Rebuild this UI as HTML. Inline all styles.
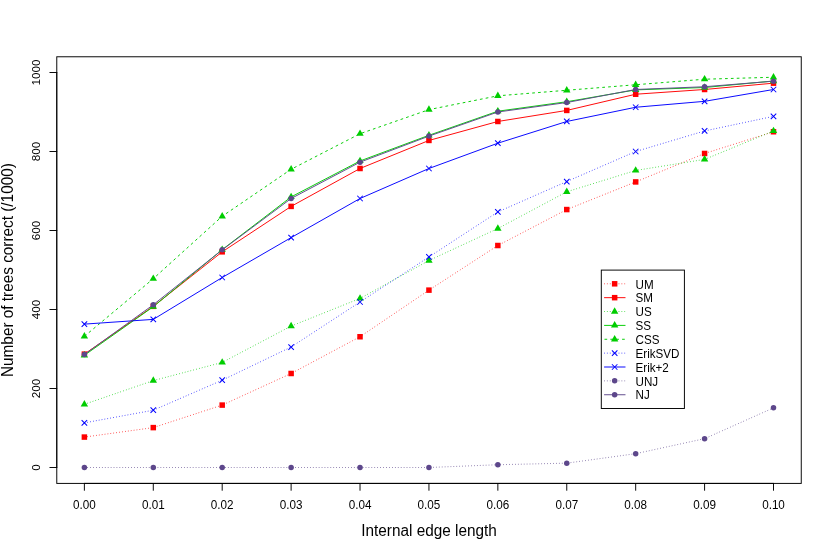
<!DOCTYPE html>
<html><head><meta charset="utf-8"><title>Chart</title>
<style>html,body{margin:0;padding:0;background:#fff}body{width:830px;height:554px;overflow:hidden}svg{will-change:transform}</style></head>
<body>
<svg width="830" height="554" viewBox="0 0 830 554" style="display:block;font-family:'Liberation Sans',sans-serif">
<rect width="830" height="554" fill="#fff"/>
<path d="M84.38 437.08L153.29 427.61L222.20 405.09L291.12 373.49L360.03 336.75L428.94 290.14L497.85 245.51L566.76 209.56L635.68 181.92L704.59 153.48L773.50 131.75" stroke="#FF0000" stroke-width="0.96" fill="none" stroke-linecap="butt" stroke-linejoin="round" stroke-dasharray="0.65 2.28"/>
<rect x="81.63" y="434.33" width="5.50" height="5.50" fill="#FF0000"/>
<rect x="150.54" y="424.86" width="5.50" height="5.50" fill="#FF0000"/>
<rect x="219.45" y="402.34" width="5.50" height="5.50" fill="#FF0000"/>
<rect x="288.37" y="370.74" width="5.50" height="5.50" fill="#FF0000"/>
<rect x="357.28" y="334.00" width="5.50" height="5.50" fill="#FF0000"/>
<rect x="426.19" y="287.39" width="5.50" height="5.50" fill="#FF0000"/>
<rect x="495.10" y="242.76" width="5.50" height="5.50" fill="#FF0000"/>
<rect x="564.01" y="206.81" width="5.50" height="5.50" fill="#FF0000"/>
<rect x="632.93" y="179.17" width="5.50" height="5.50" fill="#FF0000"/>
<rect x="701.84" y="150.73" width="5.50" height="5.50" fill="#FF0000"/>
<rect x="770.75" y="129.00" width="5.50" height="5.50" fill="#FF0000"/>
<path d="M84.38 354.13L153.29 306.34L222.20 251.83L291.12 206.40L360.03 168.49L428.94 140.44L497.85 121.48L566.76 110.42L635.68 94.23L704.59 89.49L773.50 83.17" stroke="#FF0000" stroke-width="0.96" fill="none" stroke-linecap="round" stroke-linejoin="round"/>
<rect x="81.63" y="351.38" width="5.50" height="5.50" fill="#FF0000"/>
<rect x="150.54" y="303.59" width="5.50" height="5.50" fill="#FF0000"/>
<rect x="219.45" y="249.08" width="5.50" height="5.50" fill="#FF0000"/>
<rect x="288.37" y="203.65" width="5.50" height="5.50" fill="#FF0000"/>
<rect x="357.28" y="165.74" width="5.50" height="5.50" fill="#FF0000"/>
<rect x="426.19" y="137.69" width="5.50" height="5.50" fill="#FF0000"/>
<rect x="495.10" y="118.73" width="5.50" height="5.50" fill="#FF0000"/>
<rect x="564.01" y="107.67" width="5.50" height="5.50" fill="#FF0000"/>
<rect x="632.93" y="91.48" width="5.50" height="5.50" fill="#FF0000"/>
<rect x="701.84" y="86.74" width="5.50" height="5.50" fill="#FF0000"/>
<rect x="770.75" y="80.42" width="5.50" height="5.50" fill="#FF0000"/>
<path d="M84.38 404.30L153.29 380.60L222.20 362.43L291.12 326.09L360.03 298.44L428.94 260.52L497.85 228.53L566.76 191.79L635.68 170.46L704.59 159.40L773.50 130.96" stroke="#00CD00" stroke-width="0.96" fill="none" stroke-linecap="butt" stroke-linejoin="round" stroke-dasharray="0.65 2.28"/>
<path d="M84.38 400.02L88.08 406.44L80.68 406.44Z" fill="#00CD00"/>
<path d="M153.29 376.32L157.00 382.74L149.59 382.74Z" fill="#00CD00"/>
<path d="M222.20 358.15L225.91 364.57L218.50 364.57Z" fill="#00CD00"/>
<path d="M291.12 321.81L294.82 328.23L287.41 328.23Z" fill="#00CD00"/>
<path d="M360.03 294.16L363.73 300.58L356.32 300.58Z" fill="#00CD00"/>
<path d="M428.94 256.24L432.64 262.66L425.24 262.66Z" fill="#00CD00"/>
<path d="M497.85 224.25L501.56 230.66L494.15 230.66Z" fill="#00CD00"/>
<path d="M566.76 187.51L570.47 193.93L563.06 193.93Z" fill="#00CD00"/>
<path d="M635.68 166.18L639.38 172.60L631.97 172.60Z" fill="#00CD00"/>
<path d="M704.59 155.12L708.29 161.54L700.88 161.54Z" fill="#00CD00"/>
<path d="M773.50 126.68L777.20 133.10L769.80 133.10Z" fill="#00CD00"/>
<path d="M84.38 355.32L153.29 306.74L222.20 249.66L291.12 196.93L360.03 160.98L428.94 135.31L497.85 111.21L566.76 101.73L635.68 89.88L704.59 87.51L773.50 80.99" stroke="#00CD00" stroke-width="0.96" fill="none" stroke-linecap="round" stroke-linejoin="round"/>
<path d="M84.38 351.04L88.08 357.46L80.68 357.46Z" fill="#00CD00"/>
<path d="M153.29 302.46L157.00 308.87L149.59 308.87Z" fill="#00CD00"/>
<path d="M222.20 245.38L225.91 251.80L218.50 251.80Z" fill="#00CD00"/>
<path d="M291.12 192.65L294.82 199.06L287.41 199.06Z" fill="#00CD00"/>
<path d="M360.03 156.70L363.73 163.12L356.32 163.12Z" fill="#00CD00"/>
<path d="M428.94 131.03L432.64 137.44L425.24 137.44Z" fill="#00CD00"/>
<path d="M497.85 106.93L501.56 113.35L494.15 113.35Z" fill="#00CD00"/>
<path d="M566.76 97.45L570.47 103.87L563.06 103.87Z" fill="#00CD00"/>
<path d="M635.68 85.60L639.38 92.02L631.97 92.02Z" fill="#00CD00"/>
<path d="M704.59 83.23L708.29 89.65L700.88 89.65Z" fill="#00CD00"/>
<path d="M773.50 76.72L777.20 83.13L769.80 83.13Z" fill="#00CD00"/>
<path d="M84.38 336.36L153.29 278.69L222.20 216.28L291.12 169.27L360.03 133.73L428.94 109.63L497.85 95.81L566.76 90.27L635.68 84.75L704.59 79.21L773.50 77.24" stroke="#00CD00" stroke-width="0.96" fill="none" stroke-linecap="butt" stroke-linejoin="round" stroke-dasharray="2.7 3.16"/>
<path d="M84.38 332.08L88.08 338.50L80.68 338.50Z" fill="#00CD00"/>
<path d="M153.29 274.41L157.00 280.83L149.59 280.83Z" fill="#00CD00"/>
<path d="M222.20 212.00L225.91 218.42L218.50 218.42Z" fill="#00CD00"/>
<path d="M291.12 165.00L294.82 171.41L287.41 171.41Z" fill="#00CD00"/>
<path d="M360.03 129.45L363.73 135.86L356.32 135.86Z" fill="#00CD00"/>
<path d="M428.94 105.35L432.64 111.77L425.24 111.77Z" fill="#00CD00"/>
<path d="M497.85 91.53L501.56 97.94L494.15 97.94Z" fill="#00CD00"/>
<path d="M566.76 86.00L570.47 92.41L563.06 92.41Z" fill="#00CD00"/>
<path d="M635.68 80.47L639.38 86.88L631.97 86.88Z" fill="#00CD00"/>
<path d="M704.59 74.94L708.29 81.35L700.88 81.35Z" fill="#00CD00"/>
<path d="M773.50 72.96L777.20 79.38L769.80 79.38Z" fill="#00CD00"/>
<path d="M84.38 422.87L153.29 410.23L222.20 380.20L291.12 347.02L360.03 302.00L428.94 256.97L497.85 211.94L566.76 181.52L635.68 151.50L704.59 130.96L773.50 116.35" stroke="#0000FF" stroke-width="0.96" fill="none" stroke-linecap="butt" stroke-linejoin="round" stroke-dasharray="0.65 2.28"/>
<path d="M81.63 420.12L87.13 425.62M81.63 425.62L87.13 420.12" stroke="#0000FF" stroke-width="1.02" stroke-linecap="butt" fill="none"/>
<path d="M150.54 407.48L156.04 412.98M150.54 412.98L156.04 407.48" stroke="#0000FF" stroke-width="1.02" stroke-linecap="butt" fill="none"/>
<path d="M219.45 377.45L224.95 382.95M219.45 382.95L224.95 377.45" stroke="#0000FF" stroke-width="1.02" stroke-linecap="butt" fill="none"/>
<path d="M288.37 344.27L293.87 349.77M288.37 349.77L293.87 344.27" stroke="#0000FF" stroke-width="1.02" stroke-linecap="butt" fill="none"/>
<path d="M357.28 299.25L362.78 304.75M357.28 304.75L362.78 299.25" stroke="#0000FF" stroke-width="1.02" stroke-linecap="butt" fill="none"/>
<path d="M426.19 254.22L431.69 259.72M426.19 259.72L431.69 254.22" stroke="#0000FF" stroke-width="1.02" stroke-linecap="butt" fill="none"/>
<path d="M495.10 209.19L500.60 214.69M495.10 214.69L500.60 209.19" stroke="#0000FF" stroke-width="1.02" stroke-linecap="butt" fill="none"/>
<path d="M564.01 178.77L569.51 184.27M564.01 184.27L569.51 178.77" stroke="#0000FF" stroke-width="1.02" stroke-linecap="butt" fill="none"/>
<path d="M632.93 148.75L638.43 154.25M632.93 154.25L638.43 148.75" stroke="#0000FF" stroke-width="1.02" stroke-linecap="butt" fill="none"/>
<path d="M701.84 128.21L707.34 133.71M701.84 133.71L707.34 128.21" stroke="#0000FF" stroke-width="1.02" stroke-linecap="butt" fill="none"/>
<path d="M770.75 113.60L776.25 119.10M770.75 119.10L776.25 113.60" stroke="#0000FF" stroke-width="1.02" stroke-linecap="butt" fill="none"/>
<path d="M84.38 324.12L153.29 319.38L222.20 277.50L291.12 237.61L360.03 198.50L428.94 168.49L497.85 143.20L566.76 121.48L635.68 107.26L704.59 101.33L773.50 89.49" stroke="#0000FF" stroke-width="0.96" fill="none" stroke-linecap="round" stroke-linejoin="round"/>
<path d="M81.63 321.37L87.13 326.87M81.63 326.87L87.13 321.37" stroke="#0000FF" stroke-width="1.02" stroke-linecap="butt" fill="none"/>
<path d="M150.54 316.62L156.04 322.12M150.54 322.12L156.04 316.62" stroke="#0000FF" stroke-width="1.02" stroke-linecap="butt" fill="none"/>
<path d="M219.45 274.75L224.95 280.25M219.45 280.25L224.95 274.75" stroke="#0000FF" stroke-width="1.02" stroke-linecap="butt" fill="none"/>
<path d="M288.37 234.86L293.87 240.36M288.37 240.36L293.87 234.86" stroke="#0000FF" stroke-width="1.02" stroke-linecap="butt" fill="none"/>
<path d="M357.28 195.75L362.78 201.25M357.28 201.25L362.78 195.75" stroke="#0000FF" stroke-width="1.02" stroke-linecap="butt" fill="none"/>
<path d="M426.19 165.74L431.69 171.24M426.19 171.24L431.69 165.74" stroke="#0000FF" stroke-width="1.02" stroke-linecap="butt" fill="none"/>
<path d="M495.10 140.45L500.60 145.95M495.10 145.95L500.60 140.45" stroke="#0000FF" stroke-width="1.02" stroke-linecap="butt" fill="none"/>
<path d="M564.01 118.73L569.51 124.23M564.01 124.23L569.51 118.73" stroke="#0000FF" stroke-width="1.02" stroke-linecap="butt" fill="none"/>
<path d="M632.93 104.51L638.43 110.01M632.93 110.01L638.43 104.51" stroke="#0000FF" stroke-width="1.02" stroke-linecap="butt" fill="none"/>
<path d="M701.84 98.58L707.34 104.08M701.84 104.08L707.34 98.58" stroke="#0000FF" stroke-width="1.02" stroke-linecap="butt" fill="none"/>
<path d="M770.75 86.74L776.25 92.24M770.75 92.24L776.25 86.74" stroke="#0000FF" stroke-width="1.02" stroke-linecap="butt" fill="none"/>
<path d="M84.38 467.50L153.29 467.50L222.20 467.50L291.12 467.50L360.03 467.50L428.94 467.50L497.85 464.74L566.76 463.15L635.68 453.68L704.59 438.67L773.50 407.86" stroke="#5D478B" stroke-width="0.96" fill="none" stroke-linecap="butt" stroke-linejoin="round" stroke-dasharray="0.65 2.28"/>
<circle cx="84.38" cy="467.50" r="2.75" fill="#5D478B"/>
<circle cx="153.29" cy="467.50" r="2.75" fill="#5D478B"/>
<circle cx="222.20" cy="467.50" r="2.75" fill="#5D478B"/>
<circle cx="291.12" cy="467.50" r="2.75" fill="#5D478B"/>
<circle cx="360.03" cy="467.50" r="2.75" fill="#5D478B"/>
<circle cx="428.94" cy="467.50" r="2.75" fill="#5D478B"/>
<circle cx="497.85" cy="464.74" r="2.75" fill="#5D478B"/>
<circle cx="566.76" cy="463.15" r="2.75" fill="#5D478B"/>
<circle cx="635.68" cy="453.68" r="2.75" fill="#5D478B"/>
<circle cx="704.59" cy="438.67" r="2.75" fill="#5D478B"/>
<circle cx="773.50" cy="407.86" r="2.75" fill="#5D478B"/>
<path d="M84.38 354.53L153.29 304.76L222.20 249.85L291.12 198.50L360.03 162.17L428.94 136.10L497.85 112.00L566.76 102.52L635.68 89.49L704.59 86.72L773.50 81.19" stroke="#5D478B" stroke-width="0.96" fill="none" stroke-linecap="round" stroke-linejoin="round"/>
<circle cx="84.38" cy="354.53" r="2.75" fill="#5D478B"/>
<circle cx="153.29" cy="304.76" r="2.75" fill="#5D478B"/>
<circle cx="222.20" cy="249.85" r="2.75" fill="#5D478B"/>
<circle cx="291.12" cy="198.50" r="2.75" fill="#5D478B"/>
<circle cx="360.03" cy="162.17" r="2.75" fill="#5D478B"/>
<circle cx="428.94" cy="136.10" r="2.75" fill="#5D478B"/>
<circle cx="497.85" cy="112.00" r="2.75" fill="#5D478B"/>
<circle cx="566.76" cy="102.52" r="2.75" fill="#5D478B"/>
<circle cx="635.68" cy="89.49" r="2.75" fill="#5D478B"/>
<circle cx="704.59" cy="86.72" r="2.75" fill="#5D478B"/>
<circle cx="773.50" cy="81.19" r="2.75" fill="#5D478B"/>
<rect x="56.78" y="56.78" width="744.47" height="426.62" fill="none" stroke="#000" stroke-width="0.96"/>
<path d="M84.38 483.4L773.50 483.4M84.38 483.4L84.38 490.30M153.29 483.4L153.29 490.30M222.20 483.4L222.20 490.30M291.12 483.4L291.12 490.30M360.03 483.4L360.03 490.30M428.94 483.4L428.94 490.30M497.85 483.4L497.85 490.30M566.76 483.4L566.76 490.30M635.68 483.4L635.68 490.30M704.59 483.4L704.59 490.30M773.50 483.4L773.50 490.30M56.78 467.50L56.78 72.50M56.78 467.50L49.88 467.50M56.78 388.50L49.88 388.50M56.78 309.50L49.88 309.50M56.78 230.50L49.88 230.50M56.78 151.50L49.88 151.50M56.78 72.50L49.88 72.50" stroke="#000" stroke-width="0.96" fill="none" stroke-linecap="round"/>
<text transform="translate(84.38 508.50) scale(1 1.08)" font-size="11.7" text-anchor="middle">0.00</text>
<text transform="translate(153.29 508.50) scale(1 1.08)" font-size="11.7" text-anchor="middle">0.01</text>
<text transform="translate(222.20 508.50) scale(1 1.08)" font-size="11.7" text-anchor="middle">0.02</text>
<text transform="translate(291.12 508.50) scale(1 1.08)" font-size="11.7" text-anchor="middle">0.03</text>
<text transform="translate(360.03 508.50) scale(1 1.08)" font-size="11.7" text-anchor="middle">0.04</text>
<text transform="translate(428.94 508.50) scale(1 1.08)" font-size="11.7" text-anchor="middle">0.05</text>
<text transform="translate(497.85 508.50) scale(1 1.08)" font-size="11.7" text-anchor="middle">0.06</text>
<text transform="translate(566.76 508.50) scale(1 1.08)" font-size="11.7" text-anchor="middle">0.07</text>
<text transform="translate(635.68 508.50) scale(1 1.08)" font-size="11.7" text-anchor="middle">0.08</text>
<text transform="translate(704.59 508.50) scale(1 1.08)" font-size="11.7" text-anchor="middle">0.09</text>
<text transform="translate(773.50 508.50) scale(1 1.08)" font-size="11.7" text-anchor="middle">0.10</text>
<text transform="translate(40.20 467.50) rotate(-90) scale(1 1.01)" font-size="11.7" text-anchor="middle">0</text>
<text transform="translate(40.20 388.50) rotate(-90) scale(1 1.01)" font-size="11.7" text-anchor="middle">200</text>
<text transform="translate(40.20 309.50) rotate(-90) scale(1 1.01)" font-size="11.7" text-anchor="middle">400</text>
<text transform="translate(40.20 230.50) rotate(-90) scale(1 1.01)" font-size="11.7" text-anchor="middle">600</text>
<text transform="translate(40.20 151.50) rotate(-90) scale(1 1.01)" font-size="11.7" text-anchor="middle">800</text>
<text transform="translate(40.20 72.50) rotate(-90) scale(1 1.01)" font-size="11.7" text-anchor="middle">1000</text>
<text transform="translate(429.00 535.60) scale(1 1.07)" font-size="15.35" text-anchor="middle">Internal edge length</text>
<text transform="translate(12.80 270.10) rotate(-90) scale(1 1.07)" font-size="15.35" text-anchor="middle">Number of trees correct (/1000)</text>
<rect x="601.3" y="270.1" width="83.10000000000002" height="138.39999999999998" fill="#fff" stroke="#000" stroke-width="0.96"/>
<path d="M604.00 283.80L625.10 283.80" stroke="#FF0000" stroke-width="0.96" fill="none" stroke-linecap="butt" stroke-linejoin="round" stroke-dasharray="0.65 2.28"/>
<rect x="611.90" y="281.05" width="5.50" height="5.50" fill="#FF0000"/>
<text transform="translate(635.50 288.55) scale(1 1.06)" font-size="11.65" text-anchor="start">UM</text>
<path d="M604.50 297.67L625.10 297.67" stroke="#FF0000" stroke-width="0.96" fill="none" stroke-linecap="round" stroke-linejoin="round"/>
<rect x="611.90" y="294.92" width="5.50" height="5.50" fill="#FF0000"/>
<text transform="translate(635.50 302.42) scale(1 1.06)" font-size="11.65" text-anchor="start">SM</text>
<path d="M604.00 311.53L625.10 311.53" stroke="#00CD00" stroke-width="0.96" fill="none" stroke-linecap="butt" stroke-linejoin="round" stroke-dasharray="0.65 2.28"/>
<path d="M614.65 307.26L618.35 313.67L610.95 313.67Z" fill="#00CD00"/>
<text transform="translate(635.50 316.28) scale(1 1.06)" font-size="11.65" text-anchor="start">US</text>
<path d="M604.50 325.40L625.10 325.40" stroke="#00CD00" stroke-width="0.96" fill="none" stroke-linecap="round" stroke-linejoin="round"/>
<path d="M614.65 321.12L618.35 327.54L610.95 327.54Z" fill="#00CD00"/>
<text transform="translate(635.50 330.15) scale(1 1.06)" font-size="11.65" text-anchor="start">SS</text>
<path d="M604.50 339.27L625.10 339.27" stroke="#00CD00" stroke-width="0.96" fill="none" stroke-linecap="butt" stroke-linejoin="round" stroke-dasharray="2.7 3.16"/>
<path d="M614.65 334.99L618.35 341.41L610.95 341.41Z" fill="#00CD00"/>
<text transform="translate(635.50 344.02) scale(1 1.06)" font-size="11.65" text-anchor="start">CSS</text>
<path d="M604.00 353.13L625.10 353.13" stroke="#0000FF" stroke-width="0.96" fill="none" stroke-linecap="butt" stroke-linejoin="round" stroke-dasharray="0.65 2.28"/>
<path d="M611.90 350.38L617.40 355.88M611.90 355.88L617.40 350.38" stroke="#0000FF" stroke-width="1.02" stroke-linecap="butt" fill="none"/>
<text transform="translate(635.50 357.88) scale(1 1.06)" font-size="11.65" text-anchor="start">ErikSVD</text>
<path d="M604.50 367.00L625.10 367.00" stroke="#0000FF" stroke-width="0.96" fill="none" stroke-linecap="round" stroke-linejoin="round"/>
<path d="M611.90 364.25L617.40 369.75M611.90 369.75L617.40 364.25" stroke="#0000FF" stroke-width="1.02" stroke-linecap="butt" fill="none"/>
<text transform="translate(635.50 371.75) scale(1 1.06)" font-size="11.65" text-anchor="start">Erik+2</text>
<path d="M604.00 380.87L625.10 380.87" stroke="#5D478B" stroke-width="0.96" fill="none" stroke-linecap="butt" stroke-linejoin="round" stroke-dasharray="0.65 2.28"/>
<circle cx="614.65" cy="380.87" r="2.75" fill="#5D478B"/>
<text transform="translate(635.50 385.62) scale(1 1.06)" font-size="11.65" text-anchor="start">UNJ</text>
<path d="M604.50 394.74L625.10 394.74" stroke="#5D478B" stroke-width="0.96" fill="none" stroke-linecap="round" stroke-linejoin="round"/>
<circle cx="614.65" cy="394.74" r="2.75" fill="#5D478B"/>
<text transform="translate(635.50 399.49) scale(1 1.06)" font-size="11.65" text-anchor="start">NJ</text>
</svg>
</body></html>
